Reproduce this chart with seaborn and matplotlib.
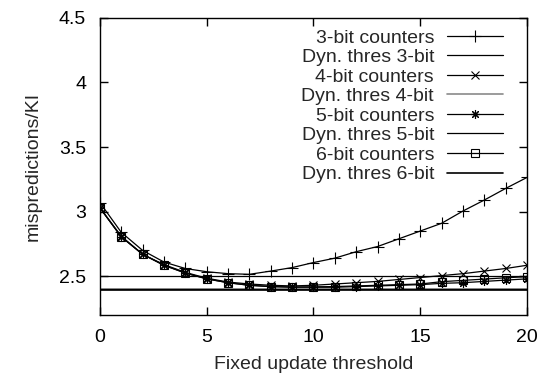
import matplotlib
matplotlib.use("Agg")
import matplotlib.pyplot as plt
from matplotlib.ticker import FixedLocator, FixedFormatter
import seaborn as sns
import pandas as pd

# Fixed update threshold values on the x axis
thresholds = list(range(21))

# Mispredictions per kilo-instruction for each counter width
bit3 = [3.07, 2.84, 2.70, 2.61, 2.56, 2.535, 2.52, 2.515, 2.54, 2.567, 2.606,
        2.64, 2.69, 2.73, 2.79, 2.85, 2.91, 3.005, 3.09, 3.18, 3.265]
bit4 = [3.03, 2.81, 2.67, 2.59, 2.53, 2.485, 2.455, 2.44, 2.43, 2.425, 2.43,
        2.44, 2.45, 2.46, 2.475, 2.49, 2.505, 2.52, 2.54, 2.56, 2.585]
bit5 = [3.03, 2.805, 2.67, 2.585, 2.525, 2.48, 2.45, 2.43, 2.42, 2.415, 2.415,
        2.415, 2.42, 2.425, 2.43, 2.435, 2.445, 2.45, 2.46, 2.47, 2.48]
bit6 = [3.03, 2.805, 2.67, 2.585, 2.525, 2.48, 2.45, 2.43, 2.42, 2.417, 2.418,
        2.42, 2.425, 2.43, 2.435, 2.44, 2.458, 2.468, 2.478, 2.488, 2.497]

# Dynamic-threshold results (constant across the fixed threshold)
dyn_thres = [2.505, 2.405, 2.400, 2.395]

counter_labels = ["3-bit counters", "4-bit counters", "5-bit counters", "6-bit counters"]
dyn_labels = ["Dyn. thres 3-bit", "Dyn. thres 4-bit", "Dyn. thres 5-bit", "Dyn. thres 6-bit"]

y_ticks = [2.5, 3, 3.5, 4, 4.5]
y_tick_labels = ["2.5", "3", "3.5", "4", "4.5"]
x_ticks = [0, 5, 10, 15, 20]

sns.set_style("ticks")
plt.rcParams["font.family"] = ["Liberation Sans", "DejaVu Sans"]

fig = plt.figure(figsize=(5.4, 3.73), dpi=100)
ax = fig.add_axes([0.185, 0.1555, 0.791, 0.7965])

series = [bit3, bit4, bit5, bit6]
markers = ["+", "x", (8, 2, 0), "s"]
marker_sizes = [8, 6, 6.5, 5.5]
dyn_colors = ["black", "#8a8a8a", "black", "black"]
dyn_widths = [0.9, 1.2, 0.9, 1.2]

for vals, lab, mk, ms, dval, dlab, dcol, dlw in zip(series, counter_labels, markers, marker_sizes,
                                                   dyn_thres, dyn_labels, dyn_colors, dyn_widths):
    df = pd.DataFrame({"threshold": thresholds, "mpki": vals})
    kw = dict(marker=mk, markersize=ms, markeredgewidth=0.8, color="black",
              markeredgecolor="black", linewidth=0.9, label=lab)
    if mk == "s":
        kw.update(markerfacecolor="none")
    sns.lineplot(data=df, x="threshold", y="mpki", ax=ax, **kw)
    ax.axhline(dval, color=dcol, linewidth=dlw, label=dlab)

ax.set_xlim(0, 20)
ax.set_ylim(2.2, 4.5)
ax.xaxis.set_major_locator(FixedLocator(x_ticks))
ax.yaxis.set_major_locator(FixedLocator(y_ticks))
ax.yaxis.set_major_formatter(FixedFormatter(y_tick_labels))
ax.tick_params(direction="in", length=6, width=1, top=True, right=True,
               labelsize=14, pad=10, colors="black")
for s in ax.spines.values():
    s.set_linewidth(1.0)
    s.set_color("black")

ax.set_xlabel("Fixed update threshold", fontsize=14, labelpad=7)
ax.set_ylabel("mispredictions/KI", fontsize=14, labelpad=12)

handles, labels = ax.get_legend_handles_labels()
ax.legend(handles, labels, loc="upper right", bbox_to_anchor=(0.944, 0.963),
          frameon=False, markerfirst=False, fontsize=14, handlelength=2.9,
          handletextpad=0.65, labelspacing=0.1, borderpad=0, borderaxespad=0)

fig.savefig("out.png", dpi=100)
